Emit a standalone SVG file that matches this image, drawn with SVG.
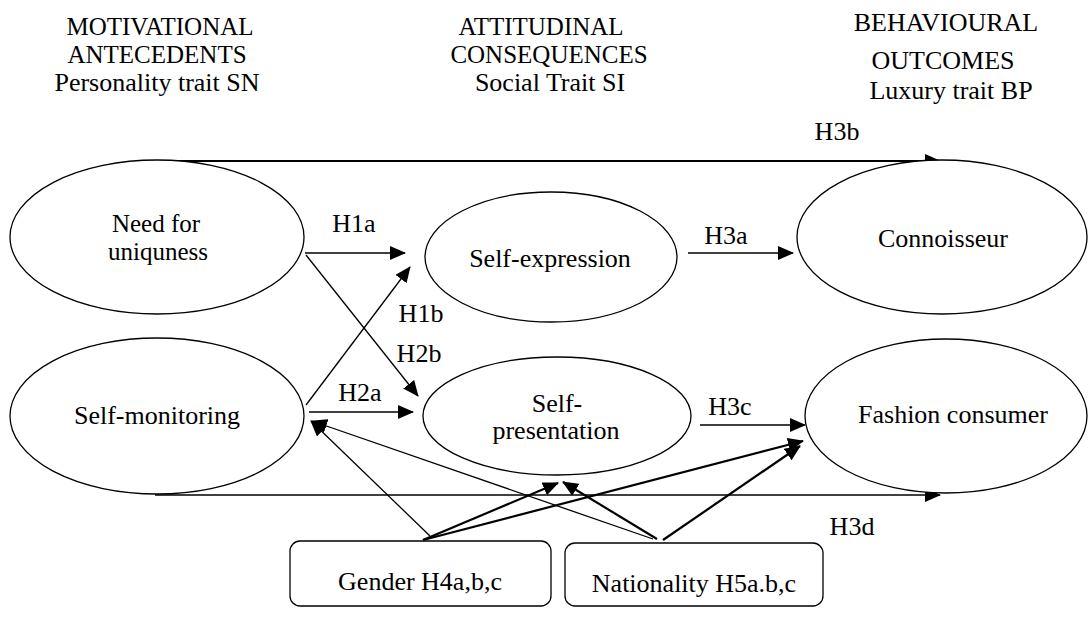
<svg xmlns="http://www.w3.org/2000/svg" width="1089" height="621" viewBox="0 0 1089 621">
<style>
text{font-family:"Liberation Serif","Times New Roman",serif;font-size:26px;fill:#000;text-anchor:middle}
.st{font-size:25px}
.node{fill:#fff;stroke:#000;stroke-width:1.3}
.thin{stroke:#000;stroke-width:1.3;fill:none;marker-end:url(#ah)}
.bold{stroke:#000;stroke-width:2.2;fill:none;marker-end:url(#ah)}
</style>
<defs>
<marker id="ah" markerUnits="userSpaceOnUse" markerWidth="16" markerHeight="14" refX="15" refY="7" orient="auto">
<path d="M0,0 L16,7 L0,14 z" fill="#000"/>
</marker>
</defs>
<rect width="1089" height="621" fill="#fff"/>
<g id="headers">
<text class="st" x="160" y="35">MOTIVATIONAL</text>
<text class="st" x="157" y="63">ANTECEDENTS</text>
<text x="157" y="91">Personality trait SN</text>
<text class="st" x="541" y="35">ATTITUDINAL</text>
<text class="st" x="549" y="63">CONSEQUENCES</text>
<text x="550" y="91">Social Trait SI</text>
<text x="946" y="31">BEHAVIOURAL</text>
<text x="943" y="69">OUTCOMES</text>
<text x="951" y="99">Luxury trait BP</text>
</g>
<g id="connectors">
<line class="bold" x1="152" y1="161" x2="940" y2="161"/>
<line class="thin" x1="155" y1="495" x2="940" y2="495"/>
<line class="thin" x1="305" y1="253" x2="405" y2="253"/>
<line class="thin" x1="306" y1="255" x2="418" y2="396"/>
<line class="thin" x1="306" y1="405" x2="410" y2="267"/>
<line class="thin" x1="309" y1="412" x2="413" y2="412"/>
<line class="thin" x1="688" y1="253" x2="793" y2="253"/>
<line class="thin" x1="700" y1="425" x2="805" y2="425"/>
<line class="thin" x1="430" y1="536" x2="311" y2="421"/>
<line class="thin" x1="653" y1="539" x2="312" y2="421"/>
<line class="bold" x1="423" y1="540" x2="558" y2="483"/>
<line class="bold" x1="423" y1="540" x2="803" y2="441"/>
<line class="bold" x1="657" y1="539" x2="563" y2="482"/>
<line class="bold" x1="663" y1="540" x2="800" y2="446"/>
<text x="837" y="140">H3b</text>
<text x="852" y="535">H3d</text>
<text x="354" y="232">H1a</text>
<text x="421" y="322">H1b</text>
<text x="419" y="362">H2b</text>
<text x="360" y="401">H2a</text>
<text x="726" y="244">H3a</text>
<text x="730" y="415">H3c</text>
</g>
<g id="need-for-uniqueness">
<ellipse class="node" cx="157" cy="237" rx="147" ry="77"/>
<text class="st" x="156" y="232">Need for</text>
<text class="st" x="158" y="260">uniquness</text>
</g>
<g id="self-monitoring">
<ellipse class="node" cx="157" cy="416" rx="147" ry="78"/>
<text x="157" y="424">Self-monitoring</text>
</g>
<g id="self-expression">
<ellipse class="node" cx="551" cy="257" rx="126" ry="65"/>
<text x="550" y="267">Self-expression</text>
</g>
<g id="self-presentation">
<ellipse class="node" cx="557" cy="416" rx="134" ry="59"/>
<text x="557" y="412">Self-</text>
<text x="556" y="439">presentation</text>
</g>
<g id="connoisseur">
<ellipse class="node" cx="942" cy="237" rx="145" ry="77"/>
<text x="943" y="247">Connoisseur</text>
</g>
<g id="fashion-consumer">
<ellipse class="node" cx="946" cy="416" rx="141" ry="77"/>
<text x="953" y="423">Fashion consumer</text>
</g>
<g id="gender">
<rect class="node" x="290" y="541" width="261" height="65" rx="10"/>
<text x="420" y="590">Gender H4a,b,c</text>
</g>
<g id="nationality">
<rect class="node" x="565" y="543" width="258" height="63" rx="10"/>
<text x="694" y="592">Nationality H5a.b,c</text>
</g>
</svg>
